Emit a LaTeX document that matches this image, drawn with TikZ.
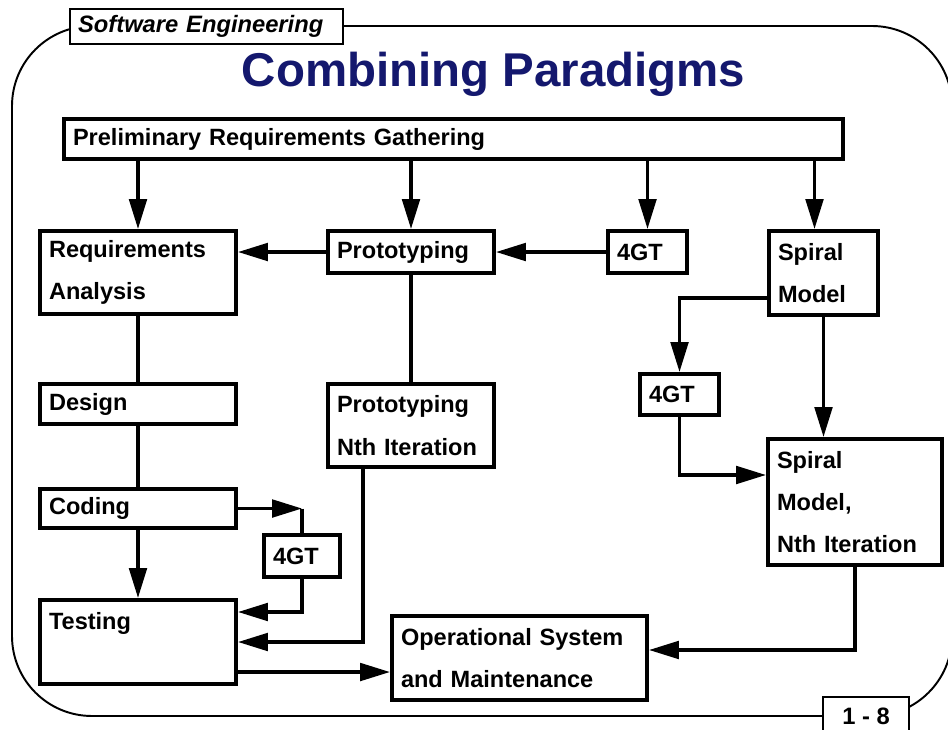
\documentclass[tikz,border=0pt]{standalone}
\usepackage{fontspec}
\setmainfont{Liberation Sans}
\usetikzlibrary{arrows.meta,calc}
\definecolor{titleblue}{RGB}{20,24,110}
\tikzset{%
  box/.style={rectangle,draw=black,line width=2.3pt,anchor=north west,align=left,inner xsep=0.18cm,inner ysep=3pt,font=\fontsize{13.4}{24}\selectfont\bfseries},
  link/.style={draw=black,line width=1.9pt},
  flow/.style={link,-{Triangle[length=17pt,width=10pt]}},
  tag/.style={rectangle,draw=black,line width=1.3pt,fill=white,font=\fontsize{13.5}{16}\selectfont\bfseries},
  frame/.style={draw=black,line width=1.1pt,rounded corners=1.6cm}%
}

\begin{document}
\begin{tikzpicture}[x=0.02cm,y=-0.02cm]
    \useasboundingbox (0,0) rectangle (948,730);
    \path[frame] (12,26) rectangle (952,716);

    \node (course) [tag,anchor=north west,align=left,minimum width=5.46cm,minimum height=0.70cm,text width=5.14cm,inner xsep=0.16cm,font=\fontsize{13.5}{16}\selectfont\bfseries\itshape] at (69,8) {Software Engineering};
    \node (title) [anchor=base,text=titleblue,font=\fontsize{27}{31}\selectfont\bfseries] at (493.5,87) {Combining Paradigms};
    \node (page) [tag,minimum width=1.72cm,minimum height=0.76cm] at (866,716) {1 - 8};

    \node (prelim) [box,minimum height=0.80cm,text width=15.22cm] at (62,117) {Preliminary Requirements Gathering};
    \node (req) [box,minimum height=1.66cm,text width=3.56cm] at (38,229) {Requirements\\Analysis};
    \node (proto) [box,minimum height=0.84cm,text width=2.96cm] at (326,229) {Prototyping};
    \node (gta) [box,minimum height=0.84cm,text width=1.22cm] at (606,229) {4GT};
    \node (spiral) [box,minimum height=1.68cm,text width=1.82cm] at (767,229) {Spiral\\Model};
    \node (design) [box,minimum height=0.80cm,text width=3.56cm] at (38,382) {Design};
    \node (protoN) [box,minimum height=1.66cm,text width=2.96cm] at (326,382) {Prototyping\\Nth Iteration};
    \node (gtc) [box,minimum height=0.82cm,text width=1.22cm] at (638,372) {4GT};
    \node (spiralN) [box,minimum height=2.52cm,text width=3.12cm] at (766,437) {Spiral\\Model,\\Nth Iteration};
    \node (coding) [box,minimum height=0.78cm,text width=3.56cm] at (38,487) {Coding};
    \node (gtb) [box,minimum height=0.84cm,text width=1.16cm] at (262,533) {4GT};
    \node (testing) [box,minimum height=1.68cm,text width=3.56cm] at (38,598) {Testing\\\mbox{}};
    \node (opsys) [box,minimum height=1.68cm,text width=4.74cm] at (390,614) {Operational System\\and Maintenance};

    \coordinate (spiraltop) at ($(spiral.north)+(-9,0)$);
    \coordinate (testin) at ($(testing.north east)+(0,14)$);
    \coordinate (protoout) at ($(protoN.south west)+(37,0)$);
    \coordinate (testout) at ($(testing.south east)+(0,-14)$);
    \coordinate (spiralout) at ($(spiral.south west)+(0,-19)$);
    \coordinate (spiralin) at ($(spiralN.north west)+(0,38)$);
    \coordinate (opsysin) at ($(opsys.north east)+(0,36)$);

    \draw[flow] (prelim.south -| req.north) -- (req.north);
    \draw[flow] (prelim.south -| proto.north) -- (proto.north);
    \draw[flow] (prelim.south -| gta.north) -- (gta.north);
    \draw[flow] (prelim.south -| spiraltop) -- (spiraltop);
    \draw[flow] (proto.west) -- (proto.west -| req.east);
    \draw[flow] (gta.west) -- (gta.west -| proto.east);

    \draw[link] (req.south) -- (design.north);
    \draw[link] (design.south) -- (coding.north);
    \draw[flow] (coding.south) -- (testing.north);
    \draw[flow] (coding.east) -- (coding.east -| gtb.north);
    \draw[link] (coding.east -| gtb.north) -- (gtb.north);
    \draw[flow] (gtb.south) |- (testin);
    \draw[link] (proto.south) -- (protoN.north);
    \draw[flow] (protoout) |- (testing.east);
    \draw[flow] (testout) -- (testout -| opsys.west);

    \draw[flow] (spiralout) -| (gtc.north);
    \draw[flow] (gtc.south) |- (spiralin);
    \draw[flow] (spiral.south) -- (spiral.south |- spiralN.north);
    \draw[flow] (spiralN.south) |- (opsysin);
\end{tikzpicture}
\end{document}
